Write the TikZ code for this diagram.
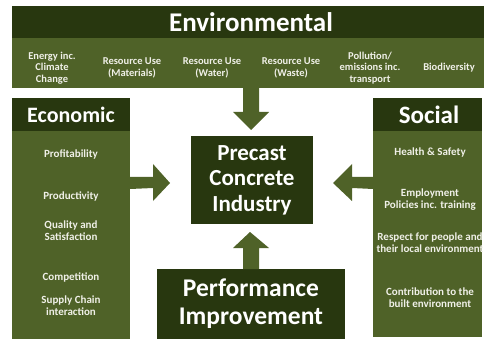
\documentclass[tikz,border=0pt]{standalone}
\usepackage{fontspec}
\setmainfont{Carlito}
\usetikzlibrary{calc}
\definecolor{darkg}{HTML}{28370F}
\definecolor{oliveg}{HTML}{4F6228}
\definecolor{itemtxt}{HTML}{F0F0E8}
\tikzset{
  band/.style={fill=#1, draw=none, inner sep=0pt, outer sep=0pt},
  title/.style={text=white, font=\bfseries\fontsize{#1}{#1}\selectfont, inner sep=0pt},
  item/.style={text=itemtxt, font=\bfseries\fontsize{11}{12}\selectfont, align=center, inner sep=0pt},
  eitem/.style={text=itemtxt, font=\bfseries\fontsize{10.5}{11.7}\selectfont, align=center, inner sep=0pt},
  bigtxt/.style={text=white, align=center, inner sep=0pt},
  blockarrow/.style={fill=oliveg, draw=none}
}
\begin{document}
\begin{tikzpicture}[x=1pt,y=-1pt]
\useasboundingbox (0,0) rectangle (484,339);
% Environmental band
\path[band=darkg] (12,6) rectangle (484,38);
\path[band=oliveg] (12,38) rectangle (484,88);
\node[title=27] (envt) at (251,22) {Environmental};
\coordinate (envs) at (251,88);
\node[eitem] (e1) at (52,68) {Energy inc.\\Climate\\Change};
\node[eitem] (e2) at (132,68) {Resource Use\\(Materials)};
\node[eitem] (e3) at (212,68) {Resource Use\\(Water)};
\node[eitem] (e4) at (291,68) {Resource Use\\(Waste)};
\node[eitem] (e5) at (370,68) {Pollution/\\emissions inc.\\transport};
\node[eitem] (e6) at (449,68) {Biodiversity};
% Economic
\path[band=darkg] (12,98) rectangle (130,131);
\path[band=oliveg] (12,131) rectangle (130,339);
\coordinate (ecoe) at (130,183);
\node[title=22] (ecot) at (71,115) {Economic};
\node[item] (c1) at (71,154) {Profitability};
\node[item] (c2) at (71,196) {Productivity};
\node[item] (c3) at (71,231) {Quality and\\Satisfaction};
\node[item] (c4) at (71,277) {Competition};
\node[item] (c5) at (71,306) {Supply Chain\\interaction};
% Social
\path[band=darkg] (373,98) rectangle (482,131);
\path[band=oliveg] (373,131) rectangle (482,337);
\coordinate (socw) at (373,183);
\node[title=25] (soct) at (429,115) {Social};
\node[item] (s1) at (430,153) {Health \& Safety};
\node[item] (s2) at (430,200) {Employment\\Policies inc. training};
\node[item] (s3) at (430,243) {Respect for people and\\their local environment};
\node[item] (s4) at (430,298) {Contribution to the\\built environment};
% Center
\node[band=darkg, minimum width=122pt, minimum height=88pt] (pci) at (252,180) {};
\node[bigtxt, font=\bfseries\fontsize{23}{25.5}\selectfont] (pcit) at (pci.center) {Precast\\Concrete\\Industry};
\node[band=darkg, minimum width=188pt, minimum height=70pt] (perf) at (251,304) {};
\node[bigtxt, font=\bfseries\fontsize{25.5}{28}\selectfont] (perft) at (perf.center) {Performance\\Improvement};
% Arrows
\fill[blockarrow] (envs) ++(-8,0) -- ++(0,24) -- ++(-10,0) -- ($(pci.north)+(-1,-6)$) -- ($(envs)+(18,24)$) -- ++(-10,0) -- ($(envs)+(8,0)$) -- cycle;
\fill[blockarrow] (ecoe) ++(0,-6) -- ++(23,0) -- ++(0,-13) -- ($(pci.west)+(-21,3)$) -- ($(ecoe)+(23,18)$) -- ++(0,-13) -- ($(ecoe)+(0,6)$) -- cycle;
\fill[blockarrow] (socw) ++(0,-6) -- ++(-21,0) -- ++(0,-13) -- ($(pci.east)+(20,3)$) -- ($(socw)+(-21,18)$) -- ++(0,-13) -- ($(socw)+(0,6)$) -- cycle;
\fill[blockarrow] (perf.north) ++(-8,0) -- ++(0,-21) -- ++(-10,0) -- ($(pci.south)+(-2,8)$) -- ($(perf.north)+(18,-21)$) -- ++(-10,0) -- ($(perf.north)+(8,0)$) -- cycle;
\end{tikzpicture}
\end{document}
